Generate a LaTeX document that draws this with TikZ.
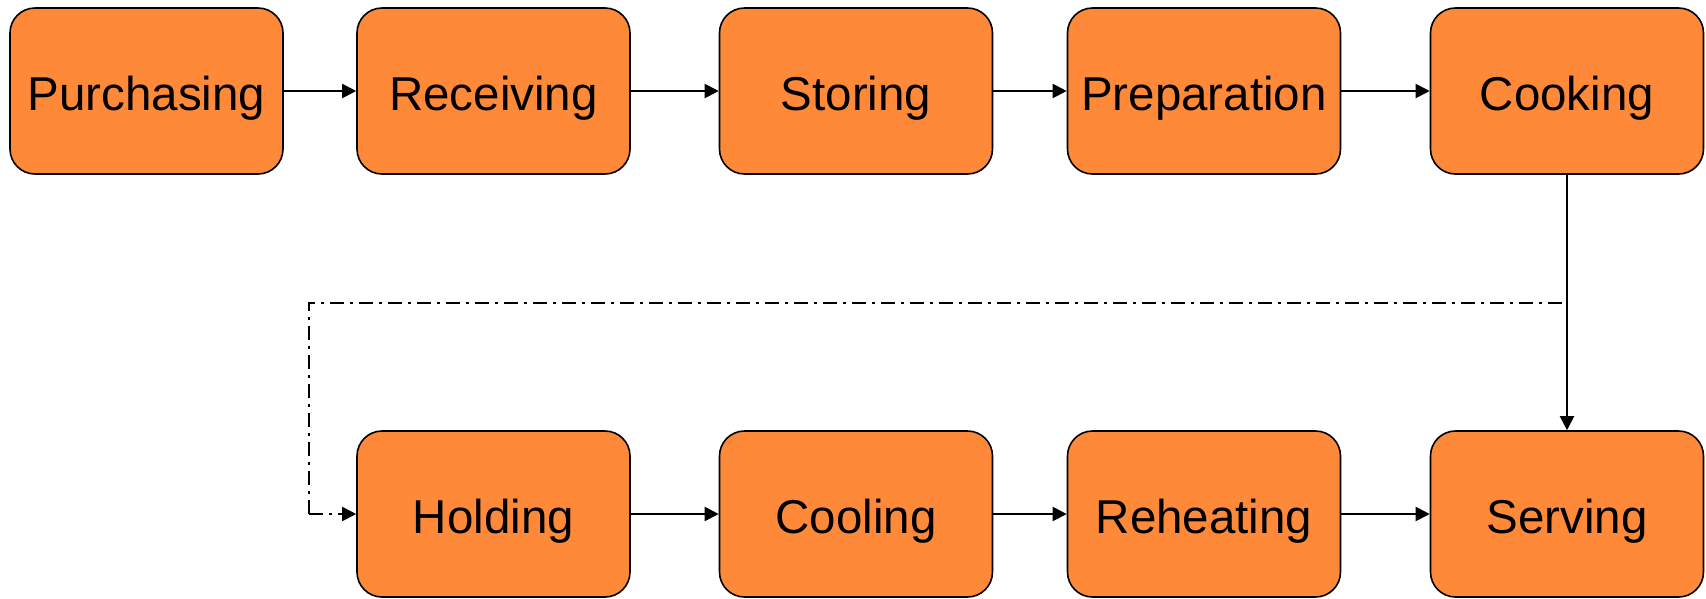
\documentclass[tikz,border=0pt]{standalone}
\usepackage{fontspec}
\setmainfont{Liberation Sans}
\usetikzlibrary{arrows.meta}
\definecolor{stepfill}{RGB}{254,137,57}
\tikzset{
  stage/.style={draw=black, line width=1.6pt, fill=stepfill, rounded corners=25pt,
    minimum width=273pt, minimum height=166pt, inner sep=0pt,
    font=\fontsize{47.5pt}{50pt}\selectfont, text height=38pt, text depth=0pt},
  flow/.style={line width=2pt, -{Triangle[length=14pt,width=14pt]}},
  altflow/.style={line width=2pt, dash pattern=on 14pt off 6pt on 3pt off 6pt},
}
\begin{document}
\begin{tikzpicture}[x=1pt,y=-1pt]
  \useasboundingbox (0,0) rectangle (1706,598);
  % top row
  \node[stage] (purch) at (146.5,91) {Purchasing};
  \node[stage] (recv)  at (493.5,91) {Receiving};
  \node[stage] (store) at (856,91)   {Storing};
  \node[stage] (prep)  at (1204,91)  {Preparation};
  \node[stage] (cook)  at (1567,91)  {Cooking};
  % bottom row
  \node[stage] (hold)  at (493.5,514) {Holding};
  \node[stage] (cool)  at (856,514)   {Cooling};
  \node[stage] (reheat) at (1204,514) {Reheating};
  \node[stage] (serve) at (1567,514)  {Serving};
  % main flow
  \draw[flow] (purch) -- (recv);
  \draw[flow] (recv) -- (store);
  \draw[flow] (store) -- (prep);
  \draw[flow] (prep) -- (cook);
  \draw[flow] (cook) -- (serve);
  \draw[flow] (hold) -- (cool);
  \draw[flow] (cool) -- (reheat);
  \draw[flow] (reheat) -- (serve);
  % alternative route from cooking to holding
  \coordinate (branch) at (1562,303);
  \coordinate (corner) at (309,303);
  \coordinate (turn) at (309,514);
  \draw[altflow] (branch) -- (corner) -- (turn);
  \draw[altflow, -{Triangle[length=14pt,width=14pt]}] (turn) -- (hold.west);
\end{tikzpicture}
\end{document}
